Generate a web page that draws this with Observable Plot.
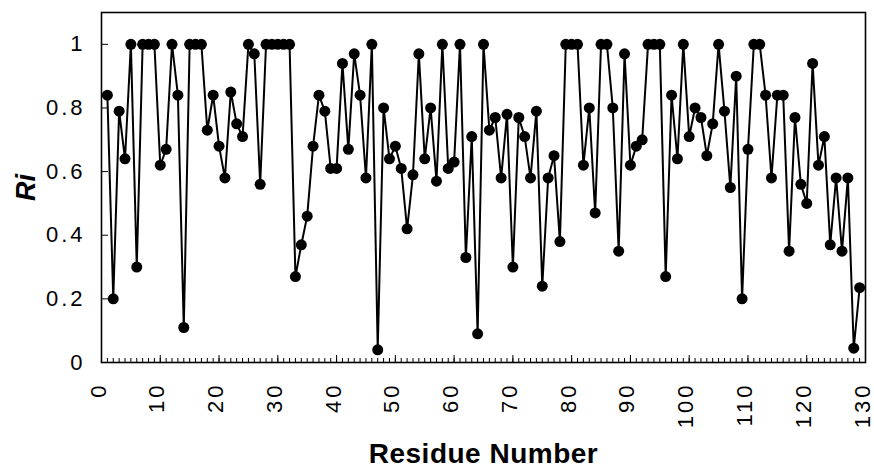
<!DOCTYPE html>
<html><head><meta charset="utf-8">
<script src="https://cdn.jsdelivr.net/npm/d3@7"></script>
<script src="https://cdn.jsdelivr.net/npm/@observablehq/plot@0.6"></script>
<style>
body{margin:0;background:#fff}
#chart svg{font-family:"Liberation Sans", Arial, Helvetica, sans-serif}
g[aria-label="x-axis tick label"] text, g[aria-label="y-axis tick label"] text {font-size:22px; letter-spacing:3px; fill:#000}
g[aria-label="x-axis label"] text {font-size:28px; font-weight:bold; letter-spacing:0.5px; fill:#000}
g[aria-label="y-axis label"] text {font-size:27px; font-weight:bold; font-style:italic; fill:#000}
</style></head>
<body><div id="chart"></div>
<script>
const firstResidue = 1;
const riValues = [
  0.84, 0.20, 0.79, 0.64, 1.00, 0.30, 1.00, 1.00, 1.00, 0.62,
  0.67, 1.00, 0.84, 0.11, 1.00, 1.00, 1.00, 0.73, 0.84, 0.68,
  0.58, 0.85, 0.75, 0.71, 1.00, 0.97, 0.56, 1.00, 1.00, 1.00,
  1.00, 1.00, 0.27, 0.37, 0.46, 0.68, 0.84, 0.79, 0.61, 0.61,
  0.94, 0.67, 0.97, 0.84, 0.58, 1.00, 0.04, 0.80, 0.64, 0.68,
  0.61, 0.42, 0.59, 0.97, 0.64, 0.80, 0.57, 1.00, 0.61, 0.63,
  1.00, 0.33, 0.71, 0.09, 1.00, 0.73, 0.77, 0.58, 0.78, 0.30,
  0.77, 0.71, 0.58, 0.79, 0.24, 0.58, 0.65, 0.38, 1.00, 1.00,
  1.00, 0.62, 0.80, 0.47, 1.00, 1.00, 0.80, 0.35, 0.97, 0.62,
  0.68, 0.70, 1.00, 1.00, 1.00, 0.27, 0.84, 0.64, 1.00, 0.71,
  0.80, 0.77, 0.65, 0.75, 1.00, 0.79, 0.55, 0.90, 0.20, 0.67,
  1.00, 1.00, 0.84, 0.58, 0.84, 0.84, 0.35, 0.77, 0.56, 0.50,
  0.94, 0.62, 0.71, 0.37, 0.58, 0.35, 0.58, 0.045, 0.235
];
const xTicks = [0, 10, 20, 30, 40, 50, 60, 70, 80, 90, 100, 110, 120, 130];
const yTicks = [0, 0.2, 0.4, 0.6, 0.8, 1];
const xMinorTicks = d3.range(0, 131, 1);
const xLabel = "Residue Number";
const yLabel = "Ri";

const data = riValues.map((ri, i) => ({residue: firstResidue + i, ri}));

const plot = Plot.plot({
  width: 874, height: 468,
  marginLeft: 101, marginRight: 9, marginTop: 12, marginBottom: 106,
  x: {domain: [0, 130]},
  y: {domain: [0, 1.1]},
  marks: [
    Plot.frame({stroke: "black", strokeWidth: 1.6}),
    Plot.axisX({ticks: xMinorTicks, tickSize: -4, tickFormat: () => "", label: null}),
    Plot.axisX({ticks: xTicks, tickSize: -7, tickFormat: () => "", label: null}),
    Plot.axisX({ticks: xTicks, tickSize: 0, tickPadding: 20, tickRotate: -90, dx: -3, tickFormat: d => String(d),
      label: xLabel, labelAnchor: "center", labelArrow: "none", labelOffset: 100}),
    Plot.axisY({ticks: yTicks, tickSize: -7, tickFormat: () => "", label: null}),
    Plot.axisY({ticks: yTicks, tickSize: 0, tickPadding: 16, tickFormat: d => String(d),
      label: yLabel, labelAnchor: "center", labelArrow: "none", labelOffset: 86}),
    Plot.line(data, {x: "residue", y: "ri", stroke: "black", strokeWidth: 2}),
    Plot.dot(data, {x: "residue", y: "ri", r: 5.5, fill: "black"})
  ]
});
document.getElementById("chart").appendChild(plot);
</script>
</body></html>
